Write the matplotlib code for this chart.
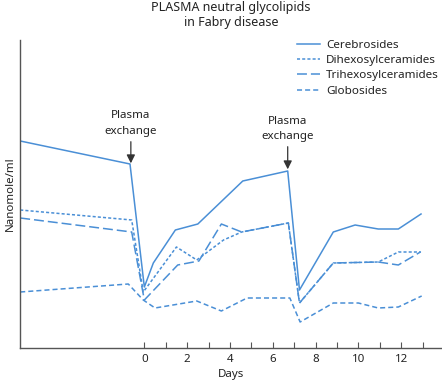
import matplotlib
matplotlib.use("Agg")
import matplotlib.pyplot as plt

plt.rcParams['font.family'] = ['Noto Sans', 'DejaVu Sans']

# values (days, nanomole/ml in arbitrary units)
cer_days = [-5.8, -0.67, 0.0, 0.42, 1.45, 2.5, 4.6, 6.7, 7.25, 8.83, 9.85, 10.93, 11.87, 12.93]
cer_vals = [207, 184, 61, 85, 118, 124, 167, 177, 58, 116, 123, 119, 119, 134]

dih_days = [-5.8, -0.59, -0.05, 1.5, 2.45, 3.7, 4.55, 6.73, 7.25, 8.83, 10.93, 11.87, 12.93]
dih_vals = [138, 128, 56, 101, 88, 108, 116, 125, 45, 85, 86, 96, 96]

tri_days = [-5.8, -0.59, 0.0, 1.56, 2.55, 3.6, 4.55, 6.73, 7.25, 8.83, 10.93, 11.87, 12.9]
tri_vals = [130, 116, 48, 83, 87, 124, 116, 125, 45, 85, 86, 83, 96]

glo_days = [-5.8, -0.75, -0.05, 0.5, 2.45, 3.6, 4.8, 6.8, 7.28, 8.83, 10.0, 10.93, 11.87, 12.96]
glo_vals = [56, 64, 48, 40, 47, 37, 50, 50, 26, 45, 45, 40, 41, 52]

exchange_days = [-0.63, 6.7]
exchange_tips = [184.7, 178.7]

tick_days = list(range(0, 14))
tick_labels = [str(d) if d % 2 == 0 else '' for d in tick_days]

blue = '#4a8fd6'
grey = '#555555'
fs = 8.3

fig = plt.figure(figsize=(4.42, 3.84), dpi=100)
ax = fig.add_axes([20 / 442, 36 / 384, 422 / 442, 308.5 / 384])

lw = 1.1
ax.plot(cer_days, cer_vals, color=blue, lw=lw, label='Cerebrosides')
ax.plot(dih_days, dih_vals, color=blue, lw=lw, dashes=(2, 1.4), label='Dihexosylceramides')
ax.plot(tri_days, tri_vals, color=blue, lw=lw, dashes=(6.5, 2.6), label='Trihexosylceramides')
ax.plot(glo_days, glo_vals, color=blue, lw=lw, dashes=(3.3, 2), label='Globosides')

# plasma exchange arrows
text_heights = [224.5, 219]
tail_heights = [206.3, 201.3]
for d, tip, th, tail in zip(exchange_days, exchange_tips, text_heights, tail_heights):
    ax.annotate('', xy=(d, tip), xytext=(d, tail),
                arrowprops=dict(arrowstyle='-|>,head_width=0.25,head_length=0.5',
                                color='#333333', lw=0.9, shrinkA=0, shrinkB=0))
    ax.text(d, th, 'Plasma\nexchange', ha='center', va='center', fontsize=fs,
            linespacing=1.55, color='#222222')

ax.set_xlim(-5.81, 13.91)
ax.set_ylim(0, 308.5)
ax.set_xticks(tick_days)
ax.set_xticklabels(tick_labels)
ax.set_yticks([])
ax.tick_params(axis='x', direction='in', length=4, width=0.8, color=grey,
               labelsize=fs, labelcolor='#222222', pad=4.5)
for s in ['top', 'right']:
    ax.spines[s].set_visible(False)
for s in ['left', 'bottom']:
    ax.spines[s].set_color(grey)
    ax.spines[s].set_linewidth(1.0)

ax.set_xlabel('Days', fontsize=fs, color='#222222', labelpad=3)
ax.set_ylabel('Nanomole/ml', fontsize=fs, color='#222222', labelpad=3)

fig.text(231 / 442, 1 - 15 / 384, 'PLASMA neutral glycolipids\nin Fabry disease',
         ha='center', va='center', fontsize=9, linespacing=1.25, color='#222222')

fig.legend(loc='upper left', bbox_to_anchor=(297 / 442, 1 - 39.5 / 384), frameon=False,
           fontsize=8.4, handlelength=2.0, handletextpad=0.5, labelspacing=0.36,
           borderpad=0, borderaxespad=0, labelcolor='#222222')

fig.savefig('out.png', dpi=100)
